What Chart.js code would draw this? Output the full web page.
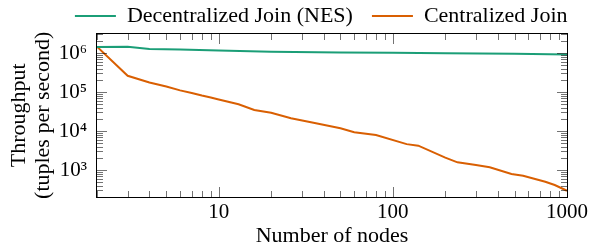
<!DOCTYPE html>
<html>
<head>
<meta charset="utf-8">
<script src="https://cdn.jsdelivr.net/npm/chart.js@4.4.1/dist/chart.umd.min.js"></script>
<style>
  html, body { margin: 0; padding: 0; background: #ffffff; }
  #wrap { width: 592px; height: 246px; }
</style>
</head>
<body>
<div id="wrap"><canvas id="c" width="592" height="246"></canvas></div>
<script>
// ---- data ----
const seriesNames = ['Decentralized Join (NES)', 'Centralized Join'];

const decentralizedNodes = [2, 3, 4, 6, 10, 20, 50, 100, 200, 500, 1000];
const decentralizedThroughput = [1.42e6, 1.45e6, 1.27e6, 1.23e6, 1.15e6, 1.08e6, 1.03e6, 1.01e6, 0.99e6, 0.95e6, 0.92e6];

const centralizedNodes = [2, 3, 4, 5, 6, 7, 8, 9, 10, 13, 16, 20, 26, 35, 50, 60, 80, 120, 140, 200, 235, 300, 360, 480, 560, 750, 850, 1000];
const centralizedThroughput = [1.45e6, 2.6e5, 1.75e5, 1.38e5, 1.1e5, 9.4e4, 8.1e4, 7.2e4, 6.4e4, 4.85e4, 3.45e4, 2.95e4, 2.12e4, 1.63e4, 1.17e4, 9.3e3, 7.9e3, 4.6e3, 4.2e3, 2.07e3, 1.57e3, 1.34e3, 1.17e3, 790, 715, 500, 412, 294];

const xTickValues = [10, 100, 1000];
const xTickLabels = ['10', '100', '1000'];
const yTickValues = [1e3, 1e4, 1e5, 1e6];
const yTickLabels = ['10\u00B3', '10\u2074', '10\u2075', '10\u2076'];

const xTitle = 'Number of nodes';
const yTitle = ['Throughput', '(tuples per second)'];

const colors = ['#1b9e77', '#d95f02'];

// ---- chart ----
Chart.defaults.font.family = "'Liberation Serif', 'Times New Roman', serif";
Chart.defaults.color = '#000';

const pairs = (xs, ys) => xs.map((x, i) => ({ x: x, y: ys[i] }));

// pgfplots-like inner ticks and frame
const frameTicks = {
  id: 'frameTicks',
  afterDatasetsDraw(chart) {
    const { ctx, chartArea: a, scales } = chart;
    const xs = scales.x, ys = scales.y;
    const L = Math.round(a.left), R = Math.round(a.right), T = Math.round(a.top), B = Math.round(a.bottom);
    ctx.save();
    ctx.strokeStyle = 'rgba(0,0,0,0.55)';
    ctx.lineWidth = 1;
    const major = 10, minor = 6;
    ctx.beginPath();
    for (let k = 1; k <= 1000; k *= 10) {
      for (let m = 1; m <= 9; m++) {
        const v = m * k;
        if (v < xs.min || v > xs.max) continue;
        const len = m === 1 ? major : minor;
        const px = Math.round(xs.getPixelForValue(v)) + 0.5;
        ctx.moveTo(px, B); ctx.lineTo(px, B - len);
        ctx.moveTo(px, T); ctx.lineTo(px, T + len);
      }
    }
    for (let k = 100; k <= 1e6; k *= 10) {
      for (let m = 1; m <= 9; m++) {
        const v = m * k;
        if (v < ys.min || v > ys.max) continue;
        const len = m === 1 ? major : minor;
        const py = Math.round(ys.getPixelForValue(v)) + 0.5;
        ctx.moveTo(L, py); ctx.lineTo(L + len, py);
        ctx.moveTo(R, py); ctx.lineTo(R - len, py);
      }
    }
    ctx.stroke();
    ctx.strokeStyle = '#000';
    ctx.lineWidth = 1;
    ctx.strokeRect(L - 0.5, T - 0.5, R - L + 1, B - T + 1);
    ctx.restore();
  },
  afterLayout(chart) {
    // let the end-aligned legend finish at the right edge of the plot
    const lg = chart.legend;
    if (lg) lg.right = chart.chartArea.right + chart.options.plugins.legend.labels.padding + 0.5;
  }
};

new Chart(document.getElementById('c'), {
  type: 'line',
  data: {
    datasets: [
      {
        label: seriesNames[0],
        data: pairs(decentralizedNodes, decentralizedThroughput),
        borderColor: colors[0],
        backgroundColor: colors[0],
        borderWidth: 2,
        pointRadius: 0,
        tension: 0
      },
      {
        label: seriesNames[1],
        data: pairs(centralizedNodes, centralizedThroughput),
        borderColor: colors[1],
        backgroundColor: colors[1],
        borderWidth: 2,
        pointRadius: 0,
        tension: 0
      }
    ]
  },
  options: {
    responsive: false,
    devicePixelRatio: 1,
    animation: false,
    layout: { padding: { top: -14, left: 0, right: 25, bottom: 0 } },
    plugins: {
      tooltip: { enabled: false },
      legend: {
        display: true,
        position: 'top',
        align: 'end',
        maxHeight: 47.5,
        labels: {
          usePointStyle: true,
          pointStyle: 'line',
          pointStyleWidth: 41,
          padding: 19,
          color: '#000',
          font: { size: 22 }
        }
      }
    },
    scales: {
      x: {
        type: 'logarithmic',
        min: 2,
        max: 1000,
        afterBuildTicks: (s) => { s.ticks = xTickValues.map(v => ({ value: v })); },
        afterFit: (s) => { s.height = 49; },
        grid: { display: false, drawTicks: false },
        border: { display: false },
        ticks: {
          padding: 3,
          maxRotation: 0,
          autoSkip: false,
          font: { size: 21 },
          color: '#000',
          callback: (v) => { const i = xTickValues.indexOf(v); return i >= 0 ? xTickLabels[i] : ''; }
        },
        title: {
          display: true,
          text: xTitle,
          color: '#000',
          font: { size: 22, lineHeight: 0.9 },
          padding: { top: 0, bottom: 0 }
        }
      },
      y: {
        type: 'logarithmic',
        min: 203,
        max: 3.16e6,
        afterBuildTicks: (s) => { s.ticks = yTickValues.map(v => ({ value: v })); },
        afterFit: (s) => { s.width = 97; },
        grid: { display: false, drawTicks: false },
        border: { display: false },
        ticks: {
          padding: 10,
          autoSkip: false,
          font: { size: 21 },
          color: '#000',
          callback: (v) => { const i = yTickValues.indexOf(v); return i >= 0 ? yTickLabels[i] : ''; }
        },
        title: {
          display: true,
          text: yTitle,
          color: '#000',
          font: { size: 22, lineHeight: 1.09 },
          padding: { top: 7, bottom: 0 }
        }
      }
    }
  },
  plugins: [frameTicks]
});
</script>
</body>
</html>
